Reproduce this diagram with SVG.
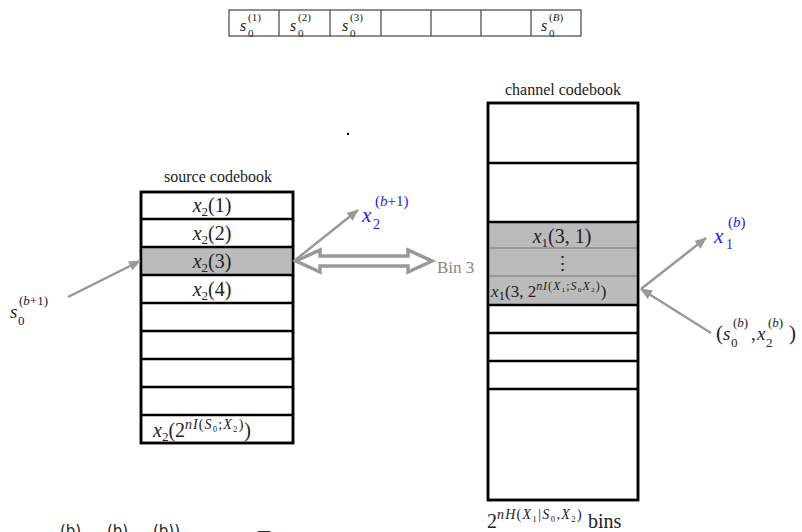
<svg xmlns="http://www.w3.org/2000/svg" width="802" height="532" viewBox="0 0 802 532" font-family="Times New Roman, Liberation Serif, Times, serif">
<defs>
<style>
.rm{font-family:"Times New Roman","Liberation Serif",Times,serif;fill:#222}
.i{font-style:italic}
.lbl{font-size:16px}
.m{font-size:19px}
.s{font-size:13px}
.t{font-size:16px}
.ts{font-size:11px}
.blue{fill:#1a1aff}
.gray{fill:#888}
.box{fill:#fff;stroke:#000;stroke-width:2.5}
.row{stroke:#000;stroke-width:2.5}
.cell{fill:#fff;stroke:#444;stroke-width:1.2}
.conn{stroke:#999;stroke-width:2.5;fill:none}
.sans{font-family:"DejaVu Sans",sans-serif;fill:#222}
</style>
<marker id="ah" viewBox="0 0 12 10" refX="11" refY="5" markerWidth="12" markerHeight="10" markerUnits="userSpaceOnUse" orient="auto">
<path d="M0,0 L12,5 L0,10 Z" fill="#999"/>
</marker>
</defs>

<g id="block-row" class="rm">
<rect class="cell" x="229" y="10" width="352" height="26"/>
<line x1="279" y1="10" x2="279" y2="36" stroke="#444" stroke-width="1.2"/>
<line x1="330" y1="10" x2="330" y2="36" stroke="#444" stroke-width="1.2"/>
<line x1="381" y1="10" x2="381" y2="36" stroke="#444" stroke-width="1.2"/>
<line x1="431" y1="10" x2="431" y2="36" stroke="#444" stroke-width="1.2"/>
<line x1="481" y1="10" x2="481" y2="36" stroke="#444" stroke-width="1.2"/>
<line x1="531" y1="10" x2="531" y2="36" stroke="#444" stroke-width="1.2"/>
<text class="rm t i" x="240" y="31">s</text><text class="rm ts" x="248" y="21">(1)</text><text class="rm ts" x="248" y="37">0</text>
<text class="rm t i" x="290" y="31">s</text><text class="rm ts" x="298" y="21">(2)</text><text class="rm ts" x="298" y="37">0</text>
<text class="rm t i" x="342" y="31">s</text><text class="rm ts" x="350" y="21">(3)</text><text class="rm ts" x="350" y="37">0</text>
<text class="rm t i" x="541" y="31">s</text><text class="rm ts" x="549" y="21">(<tspan class="i">B</tspan>)</text><text class="rm ts" x="549" y="37">0</text>
</g>

<rect id="dot" x="347" y="133" width="2" height="2" fill="#000"/>

<g id="source-codebook" class="rm">
<text class="rm lbl" x="218" y="182" text-anchor="middle">source codebook</text>
<rect class="box" x="141" y="192" width="152" height="251"/>
<rect x="141" y="247" width="152" height="28" fill="#bbb"/>
<rect x="141" y="192" width="152" height="251" fill="none" stroke="#000" stroke-width="2.5"/>
<line class="row" x1="141" y1="219" x2="293" y2="219"/>
<line class="row" x1="141" y1="247" x2="293" y2="247"/>
<line class="row" x1="141" y1="275" x2="293" y2="275"/>
<line class="row" x1="141" y1="303" x2="293" y2="303"/>
<line class="row" x1="141" y1="331" x2="293" y2="331"/>
<line class="row" x1="141" y1="359" x2="293" y2="359"/>
<line class="row" x1="141" y1="387" x2="293" y2="387"/>
<line class="row" x1="141" y1="415" x2="293" y2="415"/>
<text class="rm m" x="212" y="212" text-anchor="middle" style="font-size:20px"><tspan class="i">x</tspan><tspan class="s" dy="4">2</tspan><tspan dy="-4">(1)</tspan></text>
<text class="rm m" x="212" y="240" text-anchor="middle" style="font-size:20px"><tspan class="i">x</tspan><tspan class="s" dy="4">2</tspan><tspan dy="-4">(2)</tspan></text>
<text class="rm m" x="212" y="268" text-anchor="middle" style="font-size:20px"><tspan class="i">x</tspan><tspan class="s" dy="4">2</tspan><tspan dy="-4">(3)</tspan></text>
<text class="rm m" x="212" y="296" text-anchor="middle" style="font-size:20px"><tspan class="i">x</tspan><tspan class="s" dy="4">2</tspan><tspan dy="-4">(4)</tspan></text>
<text class="rm" x="153" y="437" style="font-size:20px"><tspan class="i">x</tspan><tspan class="s" dy="4">2</tspan><tspan dy="-4">(2</tspan><tspan style="font-size:14px;letter-spacing:1px" dy="-8"><tspan class="i">nI</tspan>(<tspan class="i">S</tspan>₀;<tspan class="i">X</tspan>₂)</tspan><tspan dy="8">)</tspan></text>
</g>

<g id="channel-codebook" class="rm">
<text class="rm lbl" x="563" y="95" text-anchor="middle">channel codebook</text>
<rect class="box" x="488" y="103" width="150" height="397"/>
<rect x="488" y="222" width="150" height="83" fill="#bbb"/>
<line x1="488" y1="248" x2="638" y2="248" stroke="#999" stroke-width="2"/>
<line x1="488" y1="276" x2="638" y2="276" stroke="#999" stroke-width="2"/>
<rect x="488" y="103" width="150" height="397" fill="none" stroke="#000" stroke-width="2.5"/>
<line class="row" x1="488" y1="163" x2="638" y2="163"/>
<line class="row" x1="488" y1="222" x2="638" y2="222"/>
<line class="row" x1="488" y1="305" x2="638" y2="305"/>
<line class="row" x1="488" y1="333" x2="638" y2="333"/>
<line class="row" x1="488" y1="361" x2="638" y2="361"/>
<line class="row" x1="488" y1="389" x2="638" y2="389"/>
<text class="rm m" x="562" y="243" text-anchor="middle" style="font-size:20px"><tspan class="i">x</tspan><tspan class="s" dy="4">1</tspan><tspan dy="-4">(3, 1)</tspan></text>
<text class="rm m" x="562" y="270" text-anchor="middle">⋮</text>
<text class="rm" x="491" y="297" style="font-size:17px"><tspan class="i">x</tspan><tspan class="s" dy="3">1</tspan><tspan dy="-3">(3, 2</tspan><tspan style="font-size:12px;letter-spacing:0.9px" dy="-7"><tspan class="i">nI</tspan>(<tspan class="i">X</tspan>₁;<tspan class="i">S</tspan>₀<tspan class="i">X</tspan>₂)</tspan><tspan dy="7">)</tspan></text>
<text class="rm" x="487" y="528" style="font-size:20px">2<tspan style="font-size:14px;letter-spacing:1.2px" dy="-9"><tspan class="i">nH</tspan>(<tspan class="i">X</tspan>₁|<tspan class="i">S</tspan>₀,<tspan class="i">X</tspan>₂)</tspan><tspan dy="9" style="font-size:20px"> bins</tspan></text>
</g>

<g id="labels" class="rm">
<text class="rm i" style="font-size:19px" x="10" y="318">s</text><text class="rm s" x="19" y="305">(<tspan class="i">b</tspan>+1)</text><text class="rm s" x="18" y="325">0</text>
<text class="rm blue i" style="font-size:21px" x="362" y="222">x</text><text class="rm blue" style="font-size:15px" x="375" y="206">(<tspan class="i">b</tspan>+1)</text><text class="rm blue" style="font-size:14px" x="373" y="229">2</text>
<text class="rm blue i" style="font-size:21px" x="714" y="243">x</text><text class="rm blue" style="font-size:15px" x="728" y="227">(<tspan class="i">b</tspan>)</text><text class="rm blue" style="font-size:14px" x="726" y="249">1</text>
<text class="rm" style="font-size:21px" x="716" y="340">(</text>
<text class="rm i" style="font-size:19px" x="723" y="340">s</text><text class="rm s" x="733" y="327">(<tspan class="i">b</tspan>)</text><text class="rm s" x="731" y="347">0</text>
<text class="rm" style="font-size:19px" x="751" y="340">,</text>
<text class="rm i" style="font-size:19px" x="757" y="340">x</text><text class="rm s" x="768" y="327">(<tspan class="i">b</tspan>)</text><text class="rm s" x="766" y="347">2</text>
<text class="rm" style="font-size:21px" x="789" y="340">)</text>
<text class="rm gray" style="font-size:17px" x="437" y="273">Bin 3</text>
<text class="sans" x="60" y="536" style="font-size:15px">(b)</text>
<text class="sans" x="107" y="536" style="font-size:15px">(b)</text>
<text class="sans" x="153" y="536" style="font-size:15px">(b))</text>
<text class="sans" x="258" y="545" style="font-size:20px">T</text>
</g>

<g id="connectors">
<line class="conn" x1="68" y1="297" x2="140" y2="261" marker-end="url(#ah)"/>
<line class="conn" x1="294" y1="261" x2="358" y2="210" marker-end="url(#ah)"/>
<line class="conn" x1="641" y1="289" x2="706" y2="238" marker-end="url(#ah)"/>
<line class="conn" x1="711" y1="333" x2="641" y2="289" marker-end="url(#ah)"/>
<path d="M296,261 L320,250 L320,256 L408,256 L408,250 L432,261 L408,272 L408,266 L320,266 L320,272 Z" fill="#fff" stroke="#999" stroke-width="3.5" stroke-linejoin="miter"/>
</g>
</svg>
